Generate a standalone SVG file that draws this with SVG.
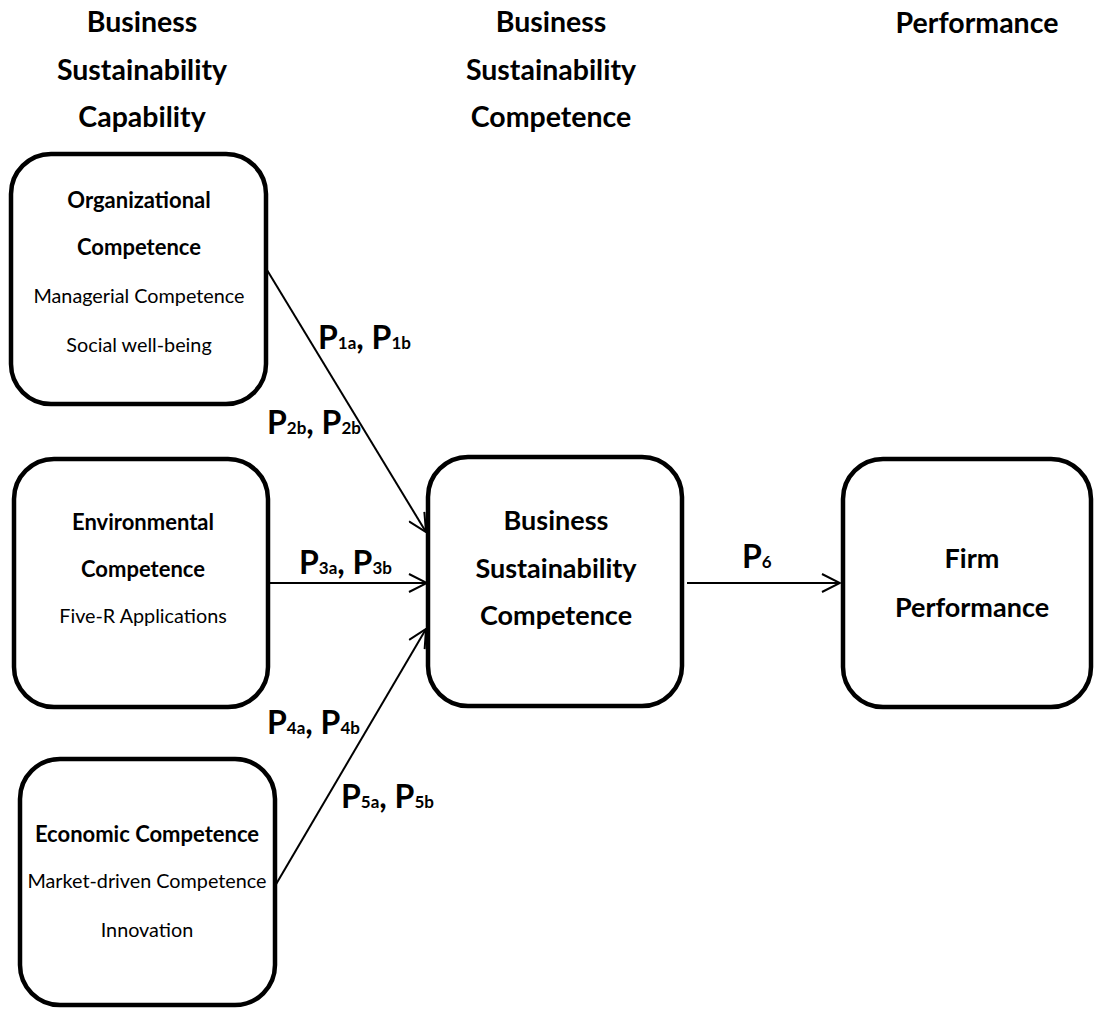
<svg xmlns="http://www.w3.org/2000/svg" width="1094" height="1010" viewBox="0 0 1094 1010">
<style>
text{font-family:Lato,"Liberation Sans",sans-serif;fill:#000;text-anchor:middle}
.hd{font-size:28.5px;font-weight:bold}
.bt{font-size:22px;font-weight:bold}
.br{font-size:19.8px}
.bb{font-size:27px;font-weight:bold}
.box{fill:#fff;stroke:#000;stroke-width:4.5}
.con{stroke:#000;stroke-width:2;fill:none}
.lbl{font-size:32px;font-weight:bold;text-anchor:start}
.sub{font-size:17px}
</style>
<defs>
<marker id="arr" viewBox="0 0 20 20" markerWidth="20" markerHeight="20" refX="19" refY="10" orient="auto" markerUnits="userSpaceOnUse">
<path d="M1,1 L19,10 L1,19" fill="none" stroke="#000" stroke-width="2"/>
</marker>
</defs>
<rect width="1094" height="1010" fill="#fff"/>
<g id="headers">
<text class="hd" x="142" y="32">Business</text>
<text class="hd" x="142" y="80">Sustainability</text>
<text class="hd" x="142" y="127">Capability</text>
<text class="hd" x="551" y="32">Business</text>
<text class="hd" x="551" y="80">Sustainability</text>
<text class="hd" x="551" y="127">Competence</text>
<text class="hd" x="977" y="33">Performance</text>
</g>
<g id="connectors">
<line class="con" x1="267" y1="270" x2="426" y2="532" marker-end="url(#arr)"/>
<line class="con" x1="268" y1="583" x2="427" y2="583" marker-end="url(#arr)"/>
<line class="con" x1="275" y1="886" x2="426" y2="629" marker-end="url(#arr)"/>
<line class="con" x1="687" y1="583" x2="840" y2="583" marker-end="url(#arr)"/>
<text class="lbl" x="318" y="349">P<tspan class="sub">1a</tspan>, P<tspan class="sub">1b</tspan></text>
<text class="lbl" x="267" y="434">P<tspan class="sub">2b</tspan>, P<tspan class="sub">2b</tspan></text>
<text class="lbl" x="299" y="574">P<tspan class="sub">3a</tspan>, P<tspan class="sub">3b</tspan></text>
<text class="lbl" x="267" y="734">P<tspan class="sub">4a</tspan>, P<tspan class="sub">4b</tspan></text>
<text class="lbl" x="341" y="808">P<tspan class="sub">5a</tspan>, P<tspan class="sub">5b</tspan></text>
<text class="lbl" x="742" y="568">P<tspan class="sub">6</tspan></text>
</g>
<g id="organizational">
<rect class="box" x="11" y="154" width="255" height="250" rx="40"/>
<text class="bt" x="139" y="208">Organizational</text>
<text class="bt" x="139" y="255">Competence</text>
<text class="br" x="139" y="303">Managerial Competence</text>
<text class="br" x="139" y="352">Social well-being</text>
</g>
<g id="environmental">
<rect class="box" x="14" y="459" width="254" height="248" rx="40"/>
<text class="bt" x="143" y="530">Environmental</text>
<text class="bt" x="143" y="577">Competence</text>
<text class="br" x="143" y="623">Five-R Applications</text>
</g>
<g id="economic">
<rect class="box" x="20" y="759" width="255" height="246" rx="40"/>
<text class="bt" x="147" y="842">Economic Competence</text>
<text class="br" x="147" y="888">Market-driven Competence</text>
<text class="br" x="147" y="937">Innovation</text>
</g>
<g id="bsc">
<rect class="box" x="428" y="457" width="254" height="249" rx="40"/>
<text class="bb" x="556" y="530">Business</text>
<text class="bb" x="556" y="578">Sustainability</text>
<text class="bb" x="556" y="625">Competence</text>
</g>
<g id="firm">
<rect class="box" x="843" y="459" width="248" height="248" rx="40"/>
<text class="bb" x="972" y="568">Firm</text>
<text class="bb" x="972" y="617">Performance</text>
</g>
</svg>
